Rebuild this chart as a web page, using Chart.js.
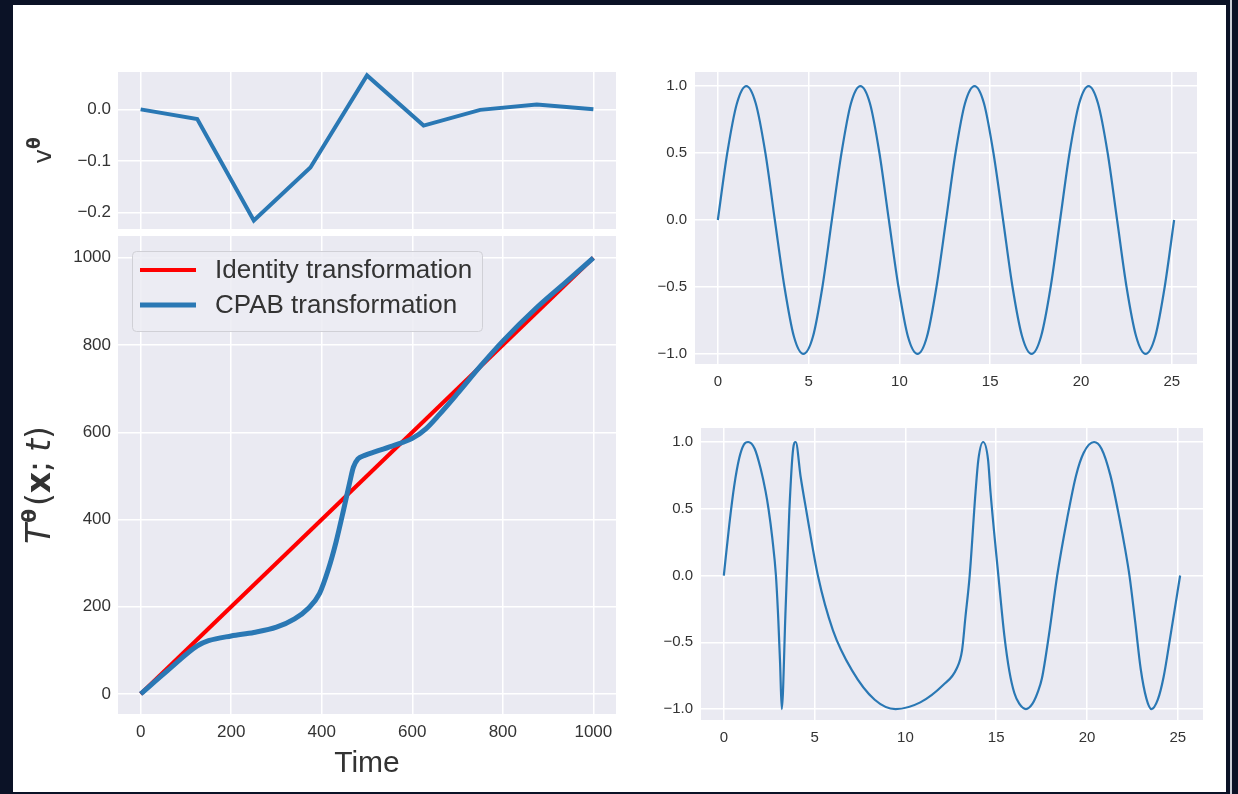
<!DOCTYPE html>
<html>
<head>
<meta charset="utf-8">
<script src="https://cdn.jsdelivr.net/npm/chart.js@4.4.1/dist/chart.umd.min.js"></script>
<style>
  html, body { margin: 0; padding: 0; }
  body { width: 1238px; height: 794px; background: #0b1226; position: relative; overflow: hidden; }
  #sheet { position: absolute; left: 13px; top: 5px; width: 1213px; height: 787px; background: #fff; }
  #edge { position: absolute; left: 1230px; top: 0; width: 2px; height: 794px; background: #c9cdd6; }
  canvas { position: absolute; }
</style>
</head>
<body>
<div id="sheet"></div>
<div id="edge"></div>
<canvas id="velChart" width="607" height="170" style="left:13px;top:62px"></canvas>
<canvas id="transChart" width="607" height="560" style="left:13px;top:226px"></canvas>
<canvas id="sineChart" width="563" height="334" style="left:640px;top:62px"></canvas>
<canvas id="warpChart" width="569" height="334" style="left:640px;top:418px"></canvas>
<script>
// ===== DATA =====

// velocity field v^theta (piecewise linear, 9 knots)
const velX = [0, 125, 250, 375, 500, 625, 750, 875, 1000];
const velY = [0.0, -0.019, -0.216, -0.113, 0.066, -0.0315, -0.001, 0.0096, 0.0];

// identity vs CPAB transformation
const identX = [0, 1000];
const identY = [0, 1000];
const cpabX = [0, 60, 125, 150, 200, 250, 300, 340, 370, 395, 415, 432, 448, 462, 470,
               480, 495, 520, 560, 600, 630, 660, 700, 750, 800, 875, 940, 1000];
const cpabY = [0, 54, 110, 122, 133, 141, 153, 172, 196, 230, 287, 350, 421, 486, 520,
               539, 547, 556, 570, 586, 608, 641, 689, 751, 809, 886, 945, 1000];

// original signal (top right)
const sineX = [0, 0.52, 1.05, 1.57, 2.09, 2.62, 3.14, 3.67, 4.19, 4.71, 5.24, 5.76,
               6.28, 6.81, 7.33, 7.85, 8.38, 8.90, 9.42, 9.95, 10.47, 11.00, 11.52, 12.04,
               12.57, 13.09, 13.61, 14.14, 14.66, 15.18, 15.71, 16.23, 16.76, 17.28, 17.80, 18.33,
               18.85, 19.37, 19.90, 20.42, 20.94, 21.47, 21.99, 22.51, 23.04, 23.56, 24.09, 24.61,
               25.13];
const sineY = [0, 0.5, 0.87, 1, 0.87, 0.5, 0, -0.5, -0.87, -1, -0.87, -0.5,
               0, 0.5, 0.87, 1, 0.87, 0.5, 0, -0.5, -0.87, -1, -0.87, -0.5,
               0, 0.5, 0.87, 1, 0.87, 0.5, 0, -0.5, -0.87, -1, -0.87, -0.5,
               0, 0.5, 0.87, 1, 0.87, 0.5, 0, -0.5, -0.87, -1, -0.87, -0.5,
               0];

// warped signal (bottom right)
const warpX = [0, 0.3, 0.57, 0.85, 1.1, 1.34, 1.7, 2.03, 2.3, 2.46, 2.67, 2.87, 3.0, 3.1, 3.19,
               3.40, 3.61, 3.82, 3.96, 4.23, 4.55, 5.18, 6.01, 7.06, 8.31, 9.46, 10.82, 12.08,
               12.81, 13.12, 13.3, 13.54, 13.86, 14.02, 14.28, 14.55, 14.69, 15.12, 15.45, 15.73,
               16.0, 16.27, 16.64, 17.0, 17.3, 17.52, 17.9, 18.36, 18.9, 19.40, 19.82, 20.39,
               20.8, 21.29, 21.8, 22.1, 22.34, 22.65, 22.96, 23.27, 23.55, 23.9, 24.22, 24.6, 25.13];
const warpY = [0, 0.38, 0.67, 0.88, 0.98, 1.0, 0.95, 0.8, 0.63, 0.5, 0.28, 0.0, -0.33, -0.66, -1.0,
               -0.26, 0.49, 0.95, 1.0, 0.74, 0.48, 0.0, -0.41, -0.71, -0.93, -1.0, -0.95, -0.82,
               -0.70, -0.56, -0.32, 0.0, 0.62, 0.87, 1.0, 0.87, 0.62, 0.0, -0.45, -0.72,
               -0.88, -0.96, -1.0, -0.96, -0.87, -0.77, -0.45, 0.0, 0.42, 0.75, 0.92, 1.0,
               0.95, 0.75, 0.42, 0.2, 0.0, -0.34, -0.70, -0.92, -1.0, -0.93, -0.76, -0.45, 0.0];

// tick labels
const timeTicks = [0, 200, 400, 600, 800, 1000];
const velTicks = [-0.2, -0.1, 0.0];
const transTicks = [0, 200, 400, 600, 800, 1000];
const waveXTicks = [0, 5, 10, 15, 20, 25];
const waveYTicks = [-1.0, -0.5, 0.0, 0.5, 1.0];

// ===== helpers =====
const BLUE = '#2a78b4';
const RED = '#ff0000';
const INK = '#333333';
const SANS = '"Liberation Sans", Arial, sans-serif';
const MATH = '"DejaVu Sans", sans-serif';

const pts = (xs, ys) => xs.map((x, i) => ({ x: x, y: ys[i] }));
const oneDec = v => v.toFixed(1).replace('-', '\u2212');

// grey plot background
const plotBg = {
    id: 'plotBg',
    beforeDraw(chart) {
        const { ctx, chartArea: a } = chart;
        ctx.save();
        ctx.fillStyle = '#eaeaf2';
        ctx.fillRect(a.left, a.top, a.width, a.height);
        ctx.restore();
    }
};

// rotated y label built from mixed-font pieces (mathtext look)
const mathLabel = {
    id: 'mathLabel',
    afterDraw(chart, args, opts) {
        if (!opts.parts) return;
        const { ctx, chartArea: a } = chart;
        const parts = opts.parts;
        ctx.save();
        ctx.translate(opts.x, (a.top + a.bottom) / 2 + (opts.shift || 0));
        ctx.rotate(-Math.PI / 2);
        ctx.fillStyle = INK;
        ctx.textBaseline = 'alphabetic';
        const widths = [];
        let total = 0;
        for (let i = 0; i < parts.length; i++) {
            ctx.font = parts[i].font;
            const w = ctx.measureText(parts[i].text).width + (parts[i].gap || 0);
            widths.push(w);
            total += w;
        }
        let x = -total / 2;
        for (let i = 0; i < parts.length; i++) {
            ctx.font = parts[i].font;
            ctx.fillText(parts[i].text, x, -(parts[i].rise || 0));
            x += widths[i];
        }
        ctx.restore();
    }
};

// framed legend inside the plot, like matplotlib's
const boxLegend = {
    id: 'boxLegend',
    afterDraw(chart, args, opts) {
        if (!opts.show) return;
        const { ctx, chartArea: a } = chart;
        const x0 = a.left + opts.dx, y0 = a.top + opts.dy;
        ctx.save();
        ctx.beginPath();
        ctx.roundRect(x0 + 0.5, y0 + 0.5, opts.w, opts.h, 4);
        ctx.fillStyle = 'rgba(236,236,243,0.85)';
        ctx.fill();
        ctx.strokeStyle = '#d0d0d6';
        ctx.lineWidth = 1;
        ctx.stroke();
        ctx.font = opts.font;
        ctx.textBaseline = 'middle';
        chart.data.datasets.forEach((ds, i) => {
            const y = y0 + opts.first + i * opts.step;
            ctx.strokeStyle = ds.borderColor;
            ctx.lineWidth = ds.borderWidth;
            ctx.beginPath();
            ctx.moveTo(x0 + 8, y);
            ctx.lineTo(x0 + 64, y);
            ctx.stroke();
            ctx.fillStyle = INK;
            ctx.fillText(ds.label, x0 + 83, y + 1);
        });
        ctx.restore();
    }
};

// fixed axis sizes so the four plot areas line up with the picture
function fixSize(size) {
    return function (scale) {
        if (scale.isHorizontal()) scale.height = size; else scale.width = size;
        scale.paddingTop = scale.paddingBottom = scale.paddingLeft = scale.paddingRight = 0;
    };
}

function axis(min, max, ticks, size, font, pad, fmt, showLabels) {
    return {
        type: 'linear',
        min: min,
        max: max,
        afterBuildTicks: s => { s.ticks = ticks.map(v => ({ value: v })); },
        afterFit: fixSize(size),
        border: { display: false },
        grid: { color: '#ffffff', lineWidth: 1.5, drawTicks: false },
        ticks: {
            display: showLabels,
            padding: pad,
            color: INK,
            font: { family: SANS, size: font },
            callback: fmt
        }
    };
}

function baseOptions(padding) {
    return {
        responsive: false,
        animation: false,
        layout: { padding: padding },
        elements: { point: { radius: 0 } },
        plugins: { legend: { display: false }, tooltip: { enabled: false } }
    };
}

Chart.register(plotBg, mathLabel, boxLegend);

// ===== top left: velocity field =====
const velOpts = baseOptions({ top: 10, right: 4, bottom: 3, left: 0 });
velOpts.scales = {
    x: axis(-50, 1050, timeTicks, 0, 17, 0, v => v, false),
    y: axis(-0.2325, 0.0726, velTicks, 105, 17, 7, oneDec, true)
};
velOpts.plugins.mathLabel = {
    x: 38,
    parts: [
        { text: 'v', font: '25px ' + MATH },
        { text: '\u03b8', font: 'bold 17px ' + MATH, rise: 11 }
    ]
};
new Chart(document.getElementById('velChart'), {
    type: 'line',
    data: {
        datasets: [{
            data: pts(velX, velY),
            borderColor: BLUE,
            borderWidth: 4,
            tension: 0
        }]
    },
    options: velOpts
});

// ===== bottom left: transformation =====
const transOpts = baseOptions({ top: 10, right: 4, bottom: 0, left: 0 });
const transX = axis(-50, 1050, timeTicks, 72, 17, 8, v => v, true);
transX.title = {
    display: true,
    text: 'Time',
    color: INK,
    font: { family: SANS, size: 30, lineHeight: 1.2 },
    padding: { top: 0, bottom: 4 }
};
transOpts.scales = {
    x: transX,
    y: axis(-46, 1050, transTicks, 105, 17, 7, v => v, true)
};
transOpts.plugins.mathLabel = {
    x: 37,
    shift: 10,
    parts: [
        { text: 'T', font: 'oblique 33px ' + MATH, gap: 1 },
        { text: '\u03b8', font: 'bold 20px ' + MATH, rise: 14, gap: 3 },
        { text: '(', font: '33px ' + MATH },
        { text: 'x', font: 'bold 33px ' + MATH },
        { text: ';', font: '33px ' + MATH, gap: 9 },
        { text: 't', font: 'oblique 33px ' + MATH },
        { text: ')', font: '33px ' + MATH }
    ]
};
transOpts.plugins.boxLegend = {
    show: true, dx: 14, dy: 15, w: 350, h: 80, first: 19, step: 35,
    font: '26px ' + SANS
};
new Chart(document.getElementById('transChart'), {
    type: 'line',
    data: {
        datasets: [
            {
                label: 'Identity transformation',
                data: pts(identX, identY),
                borderColor: RED,
                borderWidth: 4,
                order: 1
            },
            {
                label: 'CPAB transformation',
                data: pts(cpabX, cpabY),
                borderColor: BLUE,
                borderWidth: 5,
                cubicInterpolationMode: 'monotone',
                order: 0
            }
        ]
    },
    options: transOpts
});

// ===== right: original and warped signal =====
function waveChart(id, xs, ys, yMin, yMax, leftW) {
    const o = baseOptions({ top: 10, right: 6, bottom: 0, left: 0 });
    o.scales = {
        x: axis(-1.257, 26.39, waveXTicks, 32, 15, 9, v => v, true),
        y: axis(yMin, yMax, waveYTicks, leftW, 15, 8, oneDec, true)
    };
    return new Chart(document.getElementById(id), {
        type: 'line',
        data: {
            datasets: [{
                data: pts(xs, ys),
                borderColor: BLUE,
                borderWidth: 2.2,
                cubicInterpolationMode: 'monotone'
            }]
        },
        options: o
    });
}

waveChart('sineChart', sineX, sineY, -1.075, 1.105, 55);
waveChart('warpChart', warpX, warpY, -1.082, 1.105, 61);
</script>
</body>
</html>
